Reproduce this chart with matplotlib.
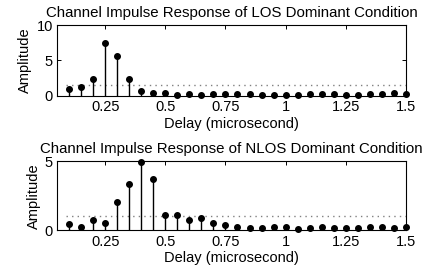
import matplotlib
matplotlib.use('Agg')
import matplotlib.pyplot as plt
import numpy as np

plt.rcParams['font.family'] = ['Liberation Sans', 'DejaVu Sans']

# delays in microseconds
delay = [0.10, 0.15, 0.20, 0.25, 0.30, 0.35, 0.40, 0.45, 0.50, 0.55,
         0.60, 0.65, 0.70, 0.75, 0.80, 0.85, 0.90, 0.95, 1.00, 1.05,
         1.10, 1.15, 1.20, 1.25, 1.30, 1.35, 1.40, 1.45, 1.50]

los_amp = [0.95, 1.25, 2.35, 7.5, 5.55, 2.35, 0.6, 0.45, 0.45, 0.1,
           0.3, 0.1, 0.3, 0.3, 0.3, 0.3, 0.1, 0.1, 0.15, 0.1,
           0.3, 0.3, 0.3, 0.1, 0.1, 0.3, 0.3, 0.45, 0.28]

nlos_amp = [0.46, 0.26, 0.74, 0.55, 2.02, 3.33, 4.94, 3.74, 1.13, 1.13,
            0.72, 0.89, 0.55, 0.38, 0.24, 0.17, 0.17, 0.24, 0.24, 0.08,
            0.17, 0.24, 0.16, 0.16, 0.16, 0.24, 0.24, 0.16, 0.24]

los_thr = 1.56
nlos_thr = 1.05

titles = ['Channel Impulse Response of LOS Dominant Condition',
          'Channel Impulse Response of NLOS Dominant Condition']
xticks = [0.25, 0.5, 0.75, 1.0, 1.25, 1.5]
xticklabels = ['0.25', '0.5', '0.75', '1', '1.25', '1.5']

fig = plt.figure(figsize=(4.43, 2.75), dpi=100)
ax1 = fig.add_axes([0.129, 0.652, 0.787, 0.257])
ax2 = fig.add_axes([0.129, 0.162, 0.787, 0.252])

panels = [(ax1, los_amp, los_thr, 10, [0, 5, 10]),
          (ax2, nlos_amp, nlos_thr, 5, [0, 5])]

for i, (ax, amp, thr, ymax, yt) in enumerate(panels):
    ax.axhline(thr, xmin=(0.085 - 0.05) / 1.45, xmax=1, color='#808080',
               linestyle=(0, (1, 3)), linewidth=1.0)
    ax.vlines(delay, 0, amp, color='black', linewidth=1.0)
    ax.plot(delay, amp, 'o', color='black', markersize=4, clip_on=False, zorder=3)
    ax.set_xlim(0.05, 1.5)
    ax.set_ylim(0, ymax)
    ax.set_xticks(xticks)
    ax.set_xticklabels(xticklabels)
    ax.set_yticks(yt)
    ax.tick_params(direction='in', top=True, right=True, length=3, width=0.7,
                   labelsize=10.5, pad=3)
    for s in ax.spines.values():
        s.set_linewidth(0.8)
    ax.set_title(titles[i], fontsize=10.8, pad=6)
    ax.set_xlabel('Delay (microsecond)', fontsize=10.5, labelpad=2)
    ax.set_ylabel('Amplitude', fontsize=10.5, labelpad=3)

fig.savefig('out.png', dpi=100)
